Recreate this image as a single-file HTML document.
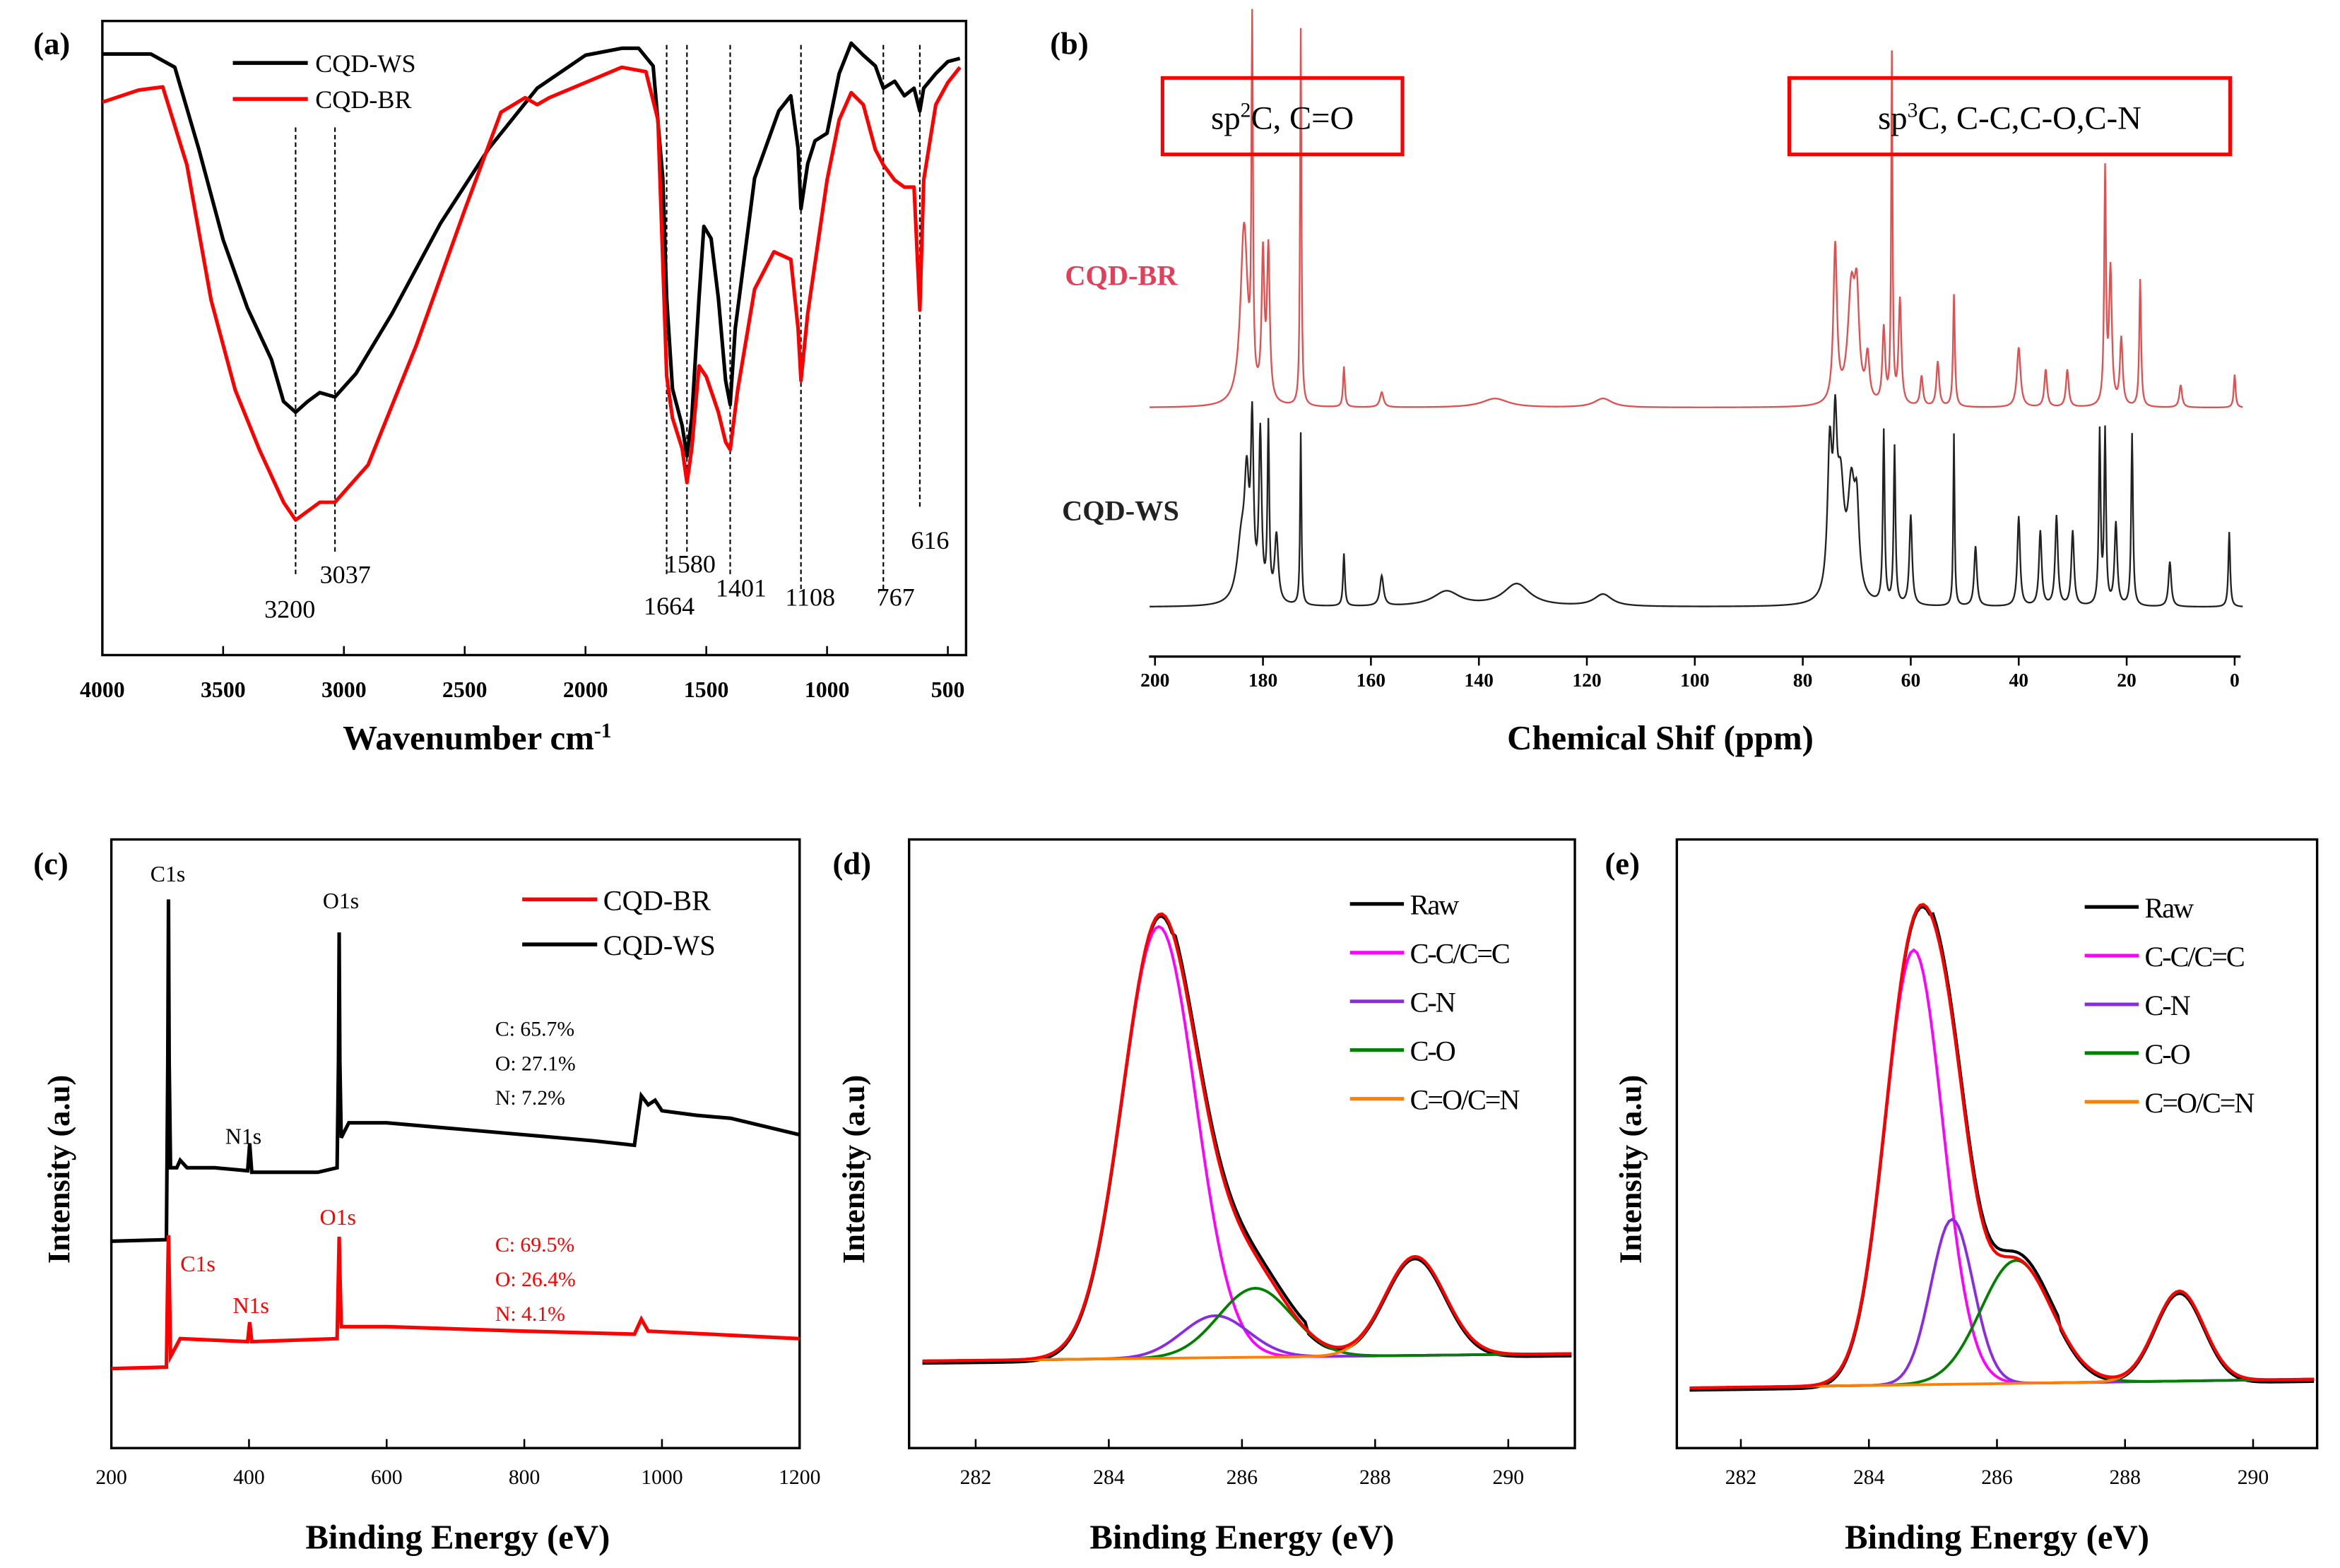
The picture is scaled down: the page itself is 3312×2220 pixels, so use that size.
<!DOCTYPE html>
<html><head><meta charset="utf-8"><style>
html,body{margin:0;padding:0;background:#fff}
svg{display:block}
text{font-family:"Liberation Serif",serif;fill:#000}
</style></head><body>
<svg id="fig" width="3312" height="2220" viewBox="0 0 1560 1046" xmlns="http://www.w3.org/2000/svg">
<rect width="1560" height="1046" fill="#fff"/>
<g id="pa"></g>
<g id="pb"></g>
<g id="pc"></g>
<g id="pd"></g>
<g id="pe"></g>
</svg>
<script>
// ---------- Panel a data (wavenumber, transmittance %) ----------
const ftirWsX=[4000,3800,3700,3600,3500,3400,3300,3250,3200,3150,3100,3037,2950,2800,2600,2400,2200,2000,1850,1780,1720,1680,1664,1640,1600,1580,1560,1530,1510,1480,1450,1420,1401,1380,1300,1200,1150,1120,1108,1080,1050,1000,950,900,850,800,767,720,680,640,616,600,550,500,450];
const ftirWsY=[94.8,94.8,92.7,79.7,65.5,54.8,46.6,40,38.3,40,41.4,40.7,44.4,53.9,68.1,79.9,89.4,94.6,95.7,95.7,92.9,75.2,56.3,42,36.2,31.4,37.4,56.3,67.6,65.7,56.3,43.3,39.5,51.5,75.2,85.8,88.2,79.9,70.4,77.5,81.1,82.3,91.7,96.5,94.6,92.9,89.4,90.5,88.2,89.4,85.8,89.4,91.7,93.6,94.1];
const ftirBrX=[4000,3850,3750,3650,3550,3450,3350,3250,3200,3100,3037,2900,2700,2500,2350,2250,2200,2150,2000,1850,1750,1700,1664,1640,1600,1580,1560,1530,1500,1450,1420,1401,1370,1300,1220,1150,1120,1108,1080,1000,950,900,850,800,767,720,680,640,616,600,550,500,450];
const ftirBrY=[87.2,89.1,89.6,77.3,56,41.8,32.4,24.1,21.3,24.1,24.1,30,48.9,70.2,85.6,87.9,86.8,87.9,90.3,92.7,92,84.4,44,37.4,32.6,27.2,32.6,45.6,43.9,38.3,33.6,32.4,41.8,57.7,63.6,62.4,51.5,43.3,53.9,74.9,84.4,88.7,86.8,79.7,77.3,74.9,73.8,73.8,54.4,74.9,86.8,90.3,92.7];
const ftirMarks=[3200,3037,1664,1580,1401,1108,767,616];
const ftirTicks=[4000,3500,3000,2500,2000,1500,1000,500];
// ---------- Panel b data (ppm, peak height px, width ppm) ----------
const nmrBrPos=[183.5,182,180,179,173,165,158,137,117,74,71,70,68,65,63.5,62,58,55,52,40,35,31,24,23,21,17.5,10,0];
const nmrBrH=[120,262,95,100,252,27,10,6,6,105,75,60,30,50,232,70,20,30,75,40,25,25,155,90,45,85,15,22];
const nmrBrW=[0.8,0.15,0.3,0.3,0.15,0.2,0.4,3,2,0.4,0.8,0.5,0.4,0.3,0.15,0.3,0.3,0.3,0.2,0.4,0.3,0.3,0.2,0.3,0.3,0.2,0.3,0.2];
const nmrWsPos=[184,183,182,180.5,179,177.5,173,165,158,146,133,117,75,74,73,71,70,65,63,60,52,48,40,36,33,30,25,24,22,19,12,1];
const nmrWsH=[40,70,110,110,115,45,115,35,20,10,15,8,95,90,70,70,50,115,105,60,115,40,60,50,60,50,115,115,55,115,30,50];
const nmrWsW=[1,0.5,0.3,0.3,0.2,0.4,0.15,0.2,0.4,3,3,2,0.5,0.4,0.8,0.8,0.5,0.2,0.2,0.3,0.15,0.3,0.3,0.3,0.3,0.3,0.2,0.2,0.3,0.2,0.3,0.2];
const nmrTicks=[200,180,160,140,120,100,80,60,40,20,0];
// ---------- Panel c data (eV, intensity) ----------
const xpsWsX=[200,280,282,283,284,286,295,300,310,350,398,401,404,500,528,530,531,532,534,545,600,700,800,900,960,970,980,990,1000,1050,1100,1200];
const xpsWsY=[30,31,150,258,150,79,79,84,79,79,77,95,76,76,79,150,236,150,99,109,109,105,101,97,94,127,121,124,117,114,112,101];
const xpsBrX=[200,280,282,283,284,286,300,398,401,404,528,530,531,532,534,600,800,960,970,980,1200];
const xpsBrY=[-55,-54,10,34,10,-47,-35,-37,-24,-37,-35,10,33,10,-27,-27,-30,-32,-22,-30,-35];
const xpsTicks=[200,400,600,800,1000,1200];
// ---------- Panel d/e data (component centers, amplitudes, sigmas) ----------
const compNames=["C-C/C=C","C-N","C-O","C=O/C=N"];
const compColors=["#ff00ff","#8a2be2","#008000","#ff8000"];
const dCenter=[284.75,285.6,286.2,288.6];
const dAmp=[288,28,46,66];
const dSigma=[0.55,0.5,0.55,0.45];
const eCenter=[284.7,285.3,286.3,288.85];
const eAmp=[262,100,82,60];
const eSigma=[0.45,0.33,0.55,0.38];
const beTicks=[282,284,286,288,290];

const NS="http://www.w3.org/2000/svg";
function mk(parent,tag,attrs,txt){const e=document.createElementNS(NS,tag);for(const k in attrs)e.setAttribute(k,attrs[k]);if(txt!==undefined)e.textContent=txt;parent.appendChild(e);return e;}
function pathD(xs,ys,fx,fy){return xs.map((x,i)=>(i?"L":"M")+fx(x).toFixed(2)+","+fy(ys[i]).toFixed(2)).join("");}

// ===== Panel a =====
(function(){
const g=document.getElementById('pa');
const X=v=>Math.min(644,68+(4000-v)*0.1611), Y=t=>437-t*4.23;
let r=mk(g,'rect',{x:68,y:14,width:576,height:423,fill:'none',stroke:'#000','stroke-width':1.6});


ftirTicks.forEach(v=>{const x=X(v);
 let t=mk(g,'line',{x1:x,y1:437,x2:x,y2:431,stroke:'#000','stroke-width':1.2});
 
 
 let l=mk(g,'text',{x:x,y:465,'text-anchor':'middle','font-size':15,'font-weight':'bold'},v);
 
 });
ftirMarks.forEach((v,i)=>{const yt=[85,85,30,30,30,30,30,30][i],yb=[385,370,385,370,385,395,395,340][i];
 let d=mk(g,'line',{x1:X(v),y1:yt,x2:X(v),y2:yb,stroke:'#000','stroke-width':1,'stroke-dasharray':'3,2'});
 
 });
const lbl=[[3200,193,412],[3037,230,389],[1664,446,410],[1580,460,382],[1401,494,398],[1108,540,404],[767,597,404],[616,620,366]];
lbl.forEach(a=>{let t=mk(g,'text',{x:a[1],y:a[2],'text-anchor':'middle','font-size':17},a[0]);
 
 });
let p1=mk(g,'path',{d:pathD(ftirWsX,ftirWsY,X,Y),fill:'none',stroke:'#000','stroke-width':2.4,'stroke-linejoin':'round'});


let p2=mk(g,'path',{d:pathD(ftirBrX,ftirBrY,X,Y),fill:'none',stroke:'#ff0000','stroke-width':2.4,'stroke-linejoin':'round'});


[["CQD-WS","#000",42],["CQD-BR","#ff0000",66]].forEach(a=>{
 let l=mk(g,'line',{x1:155,y1:a[2],x2:205,y2:a[2],stroke:a[1],'stroke-width':2.6});
 
 
 let t=mk(g,'text',{x:210,y:a[2]+6,'font-size':17},a[0]);
 
 });
let tt=mk(g,'text',{x:318,y:500,'text-anchor':'middle','font-size':23,'font-weight':'bold'});


tt.innerHTML='Wavenumber cm<tspan dy="-8" font-size="14">-1</tspan>';
let pl=mk(g,'text',{x:22,y:36,'font-size':21,'font-weight':'bold'},'(a)');


})();

// ===== Panel b =====
(function(){
const g=document.getElementById('pb');
const X=v=>770+(200-v)*3.6;
let ax=mk(g,'line',{x1:766,y1:438,x2:1494,y2:438,stroke:'#000','stroke-width':1.6});


nmrTicks.forEach(v=>{const x=X(v);
 let t=mk(g,'line',{x1:x,y1:438,x2:x,y2:444,stroke:'#000','stroke-width':1.2});
 
 
 let l=mk(g,'text',{x:x,y:458,'text-anchor':'middle','font-size':13,'font-weight':'bold'},v);
 
 });
function spec(pos,h,w,base){const xs=[],ys=[];for(let v=201;v>=-1.5;v-=0.1){let s=0;for(let i=0;i<pos.length;i++){const d=(v-pos[i])/w[i];s+=h[i]/(1+d*d);}xs.push(v);ys.push(base-s);}return [xs,ys];}
const br=spec(nmrBrPos,nmrBrH,nmrBrW,272), ws=spec(nmrWsPos,nmrWsH,nmrWsW,405);
let s1=mk(g,'path',{d:pathD(br[0],br[1],X,y=>Math.max(6,y)),fill:'none',stroke:'#e05050','stroke-width':1.1});


let s2=mk(g,'path',{d:pathD(ws[0],ws[1],X,y=>y),fill:'none',stroke:'#222','stroke-width':1.1});


let b1=mk(g,'rect',{x:775,y:52,width:160,height:51,fill:'none',stroke:'#ff0000','stroke-width':2.4});


let t1=mk(g,'text',{x:855,y:86,'text-anchor':'middle','font-size':22});


t1.innerHTML='sp<tspan dy="-8" font-size="14">2</tspan><tspan dy="8">C, C=O</tspan>';
let b2=mk(g,'rect',{x:1193,y:52,width:294,height:51,fill:'none',stroke:'#ff0000','stroke-width':2.4});


let t2=mk(g,'text',{x:1340,y:86,'text-anchor':'middle','font-size':22});


t2.innerHTML='sp<tspan dy="-8" font-size="14">3</tspan><tspan dy="8">C, C-C,C-O,C-N</tspan>';
let lb=mk(g,'text',{x:710,y:190,'font-size':19,'font-weight':'bold',style:'fill:#e0405a'},'CQD-BR');


let lw=mk(g,'text',{x:708,y:347,'font-size':19,'font-weight':'bold',style:'fill:#222'},'CQD-WS');


let tt=mk(g,'text',{x:1107,y:500,'text-anchor':'middle','font-size':23,'font-weight':'bold'},'Chemical Shif (ppm)');


let pl=mk(g,'text',{x:700,y:36,'font-size':21,'font-weight':'bold'},'(b)');


})();

// ===== Panel c =====
(function(){
const g=document.getElementById('pc');
const X=v=>74+(v-200)*0.459, Y=v=>858-v;
let r=mk(g,'rect',{x:74,y:560,width:459,height:406,fill:'none',stroke:'#000','stroke-width':1.6});


xpsTicks.forEach(v=>{const x=X(v);
 let t=mk(g,'line',{x1:x,y1:966,x2:x,y2:960,stroke:'#000','stroke-width':1.2});
 
 
 let l=mk(g,'text',{x:x,y:990,'text-anchor':'middle','font-size':14},v);
 
 });
let p1=mk(g,'path',{d:pathD(xpsWsX,xpsWsY,X,Y),fill:'none',stroke:'#000','stroke-width':2.4});


let p2=mk(g,'path',{d:pathD(xpsBrX,xpsBrY,X,Y),fill:'none',stroke:'#ff0000','stroke-width':2.4});


const ann=[["C1s",100,588,'#000',15],["O1s",215,606,'#000',15],["N1s",150,763,'#000',15],["C: 65.7%",330,691,'#000',14],["O: 27.1%",330,714,'#000',14],["N: 7.2%",330,737,'#000',14],["O1s",213,817,'#ff0000',15],["C1s",120,848,'#ff0000',15],["N1s",155,876,'#ff0000',15],["C: 69.5%",330,835,'#ff0000',14],["O: 26.4%",330,858,'#ff0000',14],["N: 4.1%",330,881,'#ff0000',14]];
ann.forEach(a=>{let t=mk(g,'text',{x:a[1],y:a[2],'font-size':a[4],style:'fill:'+a[3]},a[0]);
 
 });
[["CQD-BR","#ff0000",600],["CQD-WS","#000",630]].forEach(a=>{
 let l=mk(g,'line',{x1:348,y1:a[2],x2:398,y2:a[2],stroke:a[1],'stroke-width':2.6});
 
 
 let t=mk(g,'text',{x:402,y:a[2]+7,'font-size':19},a[0]);
 
 });
let tt=mk(g,'text',{x:305,y:1033,'text-anchor':'middle','font-size':23,'font-weight':'bold'},'Binding Energy (eV)');


let yt=mk(g,'text',{x:0,y:0,'text-anchor':'middle','font-size':21,'font-weight':'bold',transform:'translate(46,780) rotate(-90)'},'Intensity (a.u)');


let pl=mk(g,'text',{x:22,y:583,'font-size':21,'font-weight':'bold'},'(c)');


})();

// ===== Panels d & e =====
function c1s(id,label,x0,x1,base,baseR,cen,amp,sig,labX,legX,legY0,yTitleX){
const g=document.getElementById(id);
const k=(x1-x0)/10, X=v=>x0+(v-281)*k;
const bl=v=>base+(baseR-base)*(v-281)/10;
let r=mk(g,'rect',{x:x0,y:560,width:x1-x0,height:406,fill:'none',stroke:'#000','stroke-width':1.6});


beTicks.forEach(v=>{const x=X(v);
 let t=mk(g,'line',{x1:x,y1:966,x2:x,y2:960,stroke:'#000','stroke-width':1.2});
 
 
 let l=mk(g,'text',{x:x,y:990,'text-anchor':'middle','font-size':14},v);
 
 });
const xs=[];for(let v=281.2;v<=291;v+=0.05)xs.push(v);
const gauss=(i,v)=>amp[i]*Math.exp(-((v-cen[i])**2)/(2*sig[i]*sig[i]));
const total=xs.map(v=>{let s=0;for(let i=0;i<4;i++)s+=gauss(i,v);return bl(v)-s;});
let raw=mk(g,'path',{d:pathD(xs,total.map((y,i)=>y+(xs[i]>285&&xs[i]<287?-4:1.5)),X,y=>y),fill:'none',stroke:'#000','stroke-width':2});


for(let i=0;i<4;i++){
 let c=mk(g,'path',{d:pathD(xs,xs.map(v=>bl(v)-gauss(i,v)),X,y=>y),fill:'none',stroke:compColors[i],'stroke-width':1.8});
 
 }
let fit=mk(g,'path',{d:pathD(xs,total,X,y=>y),fill:'none',stroke:'#ff0000','stroke-width':2});


const names=["Raw"].concat(compNames), cols=["#000"].concat(compColors);
names.forEach((n,i)=>{const y=legY0+i*32.5;
 let l=mk(g,'line',{x1:legX,y1:y,x2:legX+36,y2:y,stroke:cols[i],'stroke-width':2.4});
 
 
 let t=mk(g,'text',{x:legX+40,y:y+7,'font-size':19,'letter-spacing':'-1'},n);
 
 });
let tt=mk(g,'text',{x:(x0+x1)/2,y:1033,'text-anchor':'middle','font-size':23,'font-weight':'bold'},'Binding Energy (eV)');


let yt=mk(g,'text',{x:0,y:0,'text-anchor':'middle','font-size':21,'font-weight':'bold',transform:'translate('+yTitleX+',780) rotate(-90)'},'Intensity (a.u)');


let pl=mk(g,'text',{x:labX,y:583,'font-size':21,'font-weight':'bold'},label);


}
c1s('pd','(d)',606,1050,908,903,dCenter,dAmp,dSigma,555,900,603,576);
c1s('pe','(e)',1118,1545,926,920,eCenter,[290,110,82,60],eSigma,1070,1390,605,1094);
</script>
</body></html>
